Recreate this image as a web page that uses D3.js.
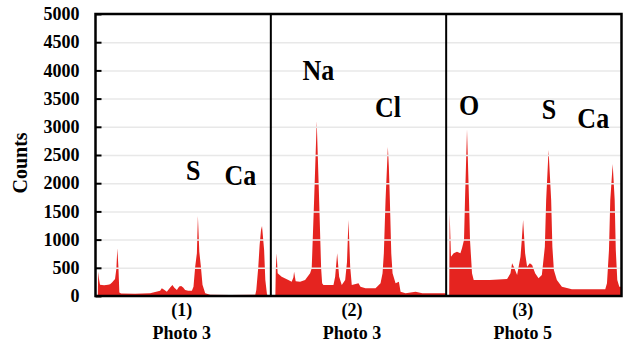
<!DOCTYPE html>
<html>
<head>
<meta charset="utf-8">
<script src="https://cdn.jsdelivr.net/npm/d3@7"></script>
<style>
  body { margin: 0; background: #fff; }
  svg text { font-family: "Liberation Serif", "Times New Roman", serif; font-weight: bold; fill: #000; }
</style>
</head>
<body>
<div id="chart"></div>
<script>
// panels and captions
const panelIds = ["(1)", "(2)", "(3)"];
const photos = ["Photo 3", "Photo 3", "Photo 5"];
const captionChannel = [86, 81, 76.5];
const yTicks = [0, 500, 1000, 1500, 2000, 2500, 3000, 3500, 4000, 4500, 5000];

// spectra: [channel, counts], channel 0..175 across each panel
const spectrum1 = [
  [2.3, 0], [2.7, 430], [3.5, 300], [4.5, 200], [8.5, 190], [12.5, 200], [14.5, 210], [16.5, 240],
  [19.5, 300], [20.8, 480], [21.8, 845], [22.9, 500], [23.8, 60], [25.5, 45], [39.5, 40], [54.5, 50],
  [59.5, 70], [64.5, 95], [66.2, 136], [68.5, 110], [71.2, 75], [74.5, 150], [76.8, 195], [78.5, 150],
  [81.2, 106], [83.5, 170], [85.5, 177], [87.5, 150], [89.5, 106], [92.5, 94], [96.2, 94], [97.8, 165],
  [99.5, 520], [101.2, 760], [102.2, 1418], [103.6, 785], [105.2, 520], [106.8, 200], [109.5, 47],
  [114.5, 20], [134.5, 18], [159.5, 20], [160.5, 106], [162.5, 520], [163.8, 900], [165.2, 1170],
  [166.2, 1241], [168.3, 815], [169.5, 284], [171.2, 20], [174, 10], [175, 0]
];
const spectrum2 = [
  [4.5, 0], [5, 500], [5.8, 757], [6.8, 402], [10.8, 343], [17.5, 284], [20.8, 254], [22.5, 330],
  [23.2, 431], [24.8, 260], [29.2, 254], [34.2, 284], [39.2, 402], [40.8, 491], [43.2, 1702],
  [45.8, 3100], [48.2, 1702], [50.2, 491], [51.2, 225], [52.5, 195], [62.5, 195], [64.2, 343],
  [66.2, 757], [68.2, 343], [70.8, 195], [74.2, 284], [76, 600], [77.5, 1347], [79.2, 520], [80.8, 195],
  [87.5, 225], [89.5, 165], [94.5, 136], [104.5, 136], [109.5, 225], [111.5, 402], [112.8, 757],
  [114.5, 1702], [116.8, 2640], [117.8, 2292], [118.8, 1702], [120.2, 757], [121.5, 402], [124.5, 225],
  [127.8, 254], [129.5, 77], [134.5, 47], [144.5, 77], [151.2, 47], [174.5, 47], [175, 0]
];
const spectrum3 = [
  [3, 0], [3.5, 1466], [4.8, 697], [7.5, 757], [10.8, 785], [14.2, 757], [15.8, 846], [17.8, 993],
  [18.8, 1702], [20.8, 2950], [22.8, 1702], [23.8, 993], [25.8, 402], [27.5, 284], [43.5, 284], [60.8, 300],
  [64.2, 402], [65.8, 580], [67.5, 520], [70.8, 372], [74.2, 697], [75.5, 1000], [76.8, 1347], [78.8, 757],
  [80.8, 520], [83.5, 580], [85.8, 550], [88.8, 402], [92.2, 313], [95.5, 372], [98.5, 874], [99.8, 1702],
  [102.2, 2589], [104.8, 1702], [106, 874], [107.5, 461], [110.5, 284], [115.5, 165], [125.5, 118],
  [158.8, 118], [160.5, 225], [162.5, 815], [163.8, 1702], [166.2, 2340], [168.2, 1702], [169.3, 815],
  [170.8, 284], [172.8, 165], [175, 165]
];
const spectra = [spectrum1, spectrum2, spectrum3];

// element labels: [panel, channel, counts]
const elements = ["S", "Ca", "Na", "Cl", "O", "S", "Ca"];
const elementAt = [[0, 97.5, 2057], [0, 144.5, 1968], [1, 47.5, 3830], [1, 117, 3174],
                   [2, 22.8, 3209], [2, 102.5, 3138], [2, 146.8, 2979]];

const width = 625, height = 345;
const plotLeft = 95.5, plotRight = 621.5, plotTop = 14, plotBottom = 296;
const serif = '"Liberation Serif", "Times New Roman", serif';

const svg = d3.select("#chart").append("svg")
  .attr("width", width).attr("height", height);

const xPanel = d3.scaleBand().domain([0, 1, 2]).range([plotLeft, plotRight]);
const xChan = d3.scaleLinear().domain([0, 175]).range([0, xPanel.bandwidth()]);
const y = d3.scaleLinear().domain([0, 5000]).range([plotBottom, plotTop]);

const area = d3.area()
  .x(d => xChan(d[0]))
  .y0(y(0))
  .y1(d => y(d[1]));

// spectra
spectra.forEach((s, i) => {
  svg.append("g")
    .attr("transform", "translate(" + xPanel(i) + ",0)")
    .append("path")
    .attr("d", area(s))
    .attr("fill", "#e52420");
});

// gridlines on top of the fill
svg.append("g")
  .attr("transform", "translate(" + plotLeft + ",0)")
  .call(d3.axisLeft(y).tickValues(yTicks.slice(1, -1)).tickSize(-(plotRight - plotLeft)).tickFormat(""))
  .call(g => g.select(".domain").remove())
  .call(g => g.selectAll("line").attr("stroke", "#e8e8e8").attr("stroke-width", 1.5));

// y axis with inward ticks
svg.append("g")
  .attr("transform", "translate(" + plotLeft + ",0)")
  .call(d3.axisLeft(y).tickValues(yTicks).tickFormat(d3.format("d"))
    .tickSizeInner(-6).tickSizeOuter(0).tickPadding(16))
  .call(g => g.select(".domain").remove())
  .call(g => g.selectAll("line").attr("stroke", "#000").attr("stroke-width", 2))
  .call(g => g.selectAll("text")
    .style("font-family", serif).style("font-weight", "bold")
    .style("font-size", "18px").style("fill", "#000"));

// panel dividers and frame
svg.append("g").selectAll("line")
  .data([1, 2])
  .enter().append("line")
  .attr("x1", d => xPanel(d)).attr("x2", d => xPanel(d))
  .attr("y1", plotTop).attr("y2", plotBottom)
  .attr("stroke", "#000").attr("stroke-width", 2);

svg.append("rect")
  .attr("x", plotLeft).attr("y", plotTop)
  .attr("width", plotRight - plotLeft).attr("height", plotBottom - plotTop)
  .attr("fill", "none").attr("stroke", "#000").attr("stroke-width", 2.5);

// element labels
svg.append("g").selectAll("text")
  .data(elements)
  .enter().append("text")
  .attr("transform", (d, i) => "translate(" + (xPanel(elementAt[i][0]) + xChan(elementAt[i][1])) + ","
    + y(elementAt[i][2]) + ") scale(1,1.12)")
  .attr("text-anchor", "middle")
  .style("font-size", "26px")
  .text(d => d);

// captions under panels
const cap = svg.append("g").selectAll("g")
  .data(panelIds)
  .enter().append("g")
  .attr("transform", (d, i) => "translate(" + (xPanel(i) + xChan(captionChannel[i])) + ",0)");
cap.append("text")
  .attr("transform", "translate(0,316) scale(1,1.1)")
  .attr("text-anchor", "middle").style("font-size", "18px")
  .text(d => d);
cap.append("text")
  .attr("transform", "translate(0,339) scale(1,1.1)")
  .attr("text-anchor", "middle").style("font-size", "18px")
  .text((d, i) => photos[i]);

// y axis title
svg.append("text")
  .attr("transform", "translate(27," + ((plotTop + plotBottom) / 2 + 8) + ") rotate(-90)")
  .attr("text-anchor", "middle")
  .style("font-size", "20px")
  .text("Counts");
</script>
</body>
</html>
